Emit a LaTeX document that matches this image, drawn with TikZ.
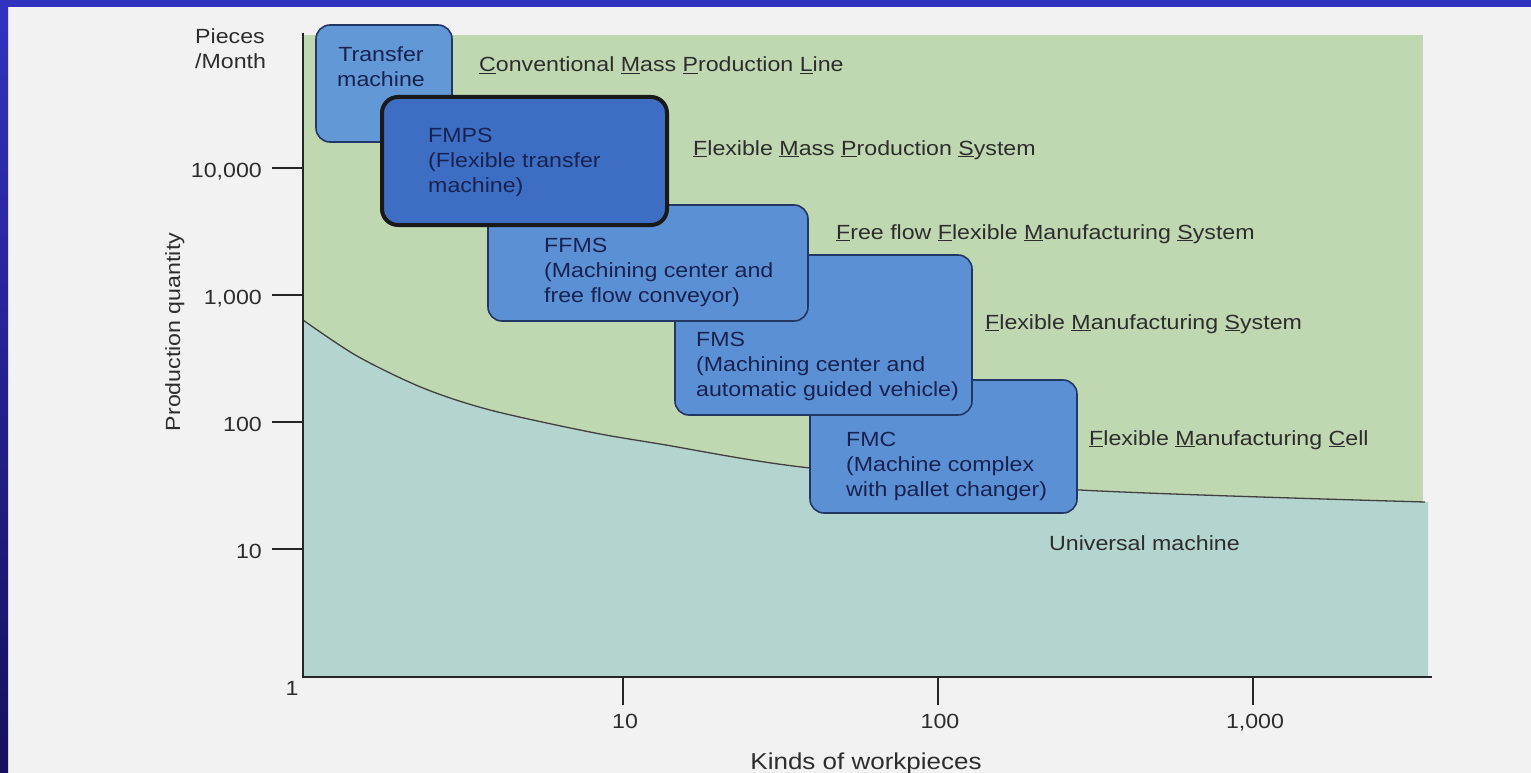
\documentclass[tikz,border=0pt]{standalone}
\usepackage{fontspec}
\setmainfont{Liberation Sans}[FakeStretch=1.13]
\usetikzlibrary{positioning}

\definecolor{slideblue}{RGB}{50,50,192}
\definecolor{slidenavy}{RGB}{22,16,92}
\definecolor{paper}{RGB}{242,242,242}
\definecolor{massgreen}{RGB}{192,216,178}
\definecolor{univteal}{RGB}{180,212,207}
\definecolor{cellblue}{RGB}{92,144,212}
\definecolor{lineblue}{RGB}{98,152,214}
\definecolor{fmpsblue}{RGB}{62,110,196}
\definecolor{inkgray}{RGB}{45,45,45}
\definecolor{inknavy}{RGB}{24,34,82}
\definecolor{edgenavy}{RGB}{35,55,100}

\newcommand{\ulet}[1]{\underline{#1}}

\begin{document}
\begin{tikzpicture}[x=1pt,y=-1pt,
    every node/.style={font=\fontsize{20.5}{25}\selectfont, text=inkgray, inner sep=0pt},
    cellbox/.style={draw=edgenavy, line width=1.6pt, fill=cellblue, rounded corners=14pt},
    celltext/.style={text=inknavy, align=left, anchor=north west},
    region/.style={anchor=base west},
    tick/.style={line width=1.8pt, draw=black!85}]
    \useasboundingbox (0,0) rectangle (1531,773);
    \fill[paper] (0,0) rectangle (1531,773);
    \fill[slideblue] (0,0) rectangle (1531,7);
    \shade[top color=slideblue, bottom color=slidenavy] (0,0) rectangle (8,773);

    % regions and boundary curve
    \fill[massgreen] (303,35) rectangle (1423,505);
    \fill[univteal] plot[smooth] coordinates {(303,320) (357,356) (423,388) (490,410) (590,432) (660,444) (810,468) (1080,490) (1425,502)}
        -- (1428,502) -- (1428,677) -- (303,677) -- cycle;
    \draw[line width=1.3pt, black!75] plot[smooth] coordinates {(303,320) (357,356) (423,388) (490,410) (590,432) (660,444) (810,468) (1080,490) (1425,502)};

    % axes
    \draw[line width=2pt, black!85] (303,33) -- (303,677) -- (1432,677);
    \foreach \yy/\lab in {168/{10,000}, 295/{1,000}, 422/100, 549/10} {
        \draw[tick] (272,\yy) -- (303,\yy);
        \node[anchor=base east] (ylab\yy) at (262,\yy+9.5) {\lab};
    }
    \foreach \xx/\lab in {623/10, 938/100, 1253/{1,000}} {
        \draw[tick] (\xx,677) -- (\xx,705);
        \node[anchor=base] (xlab\xx) at (\xx+2,728) {\lab};
    }
    \node[anchor=base] (ylab1) at (292,695) {1};
    \node[align=left, anchor=north west] (units) at (195,28) {Pieces\\/Month};
    \node[rotate=90, anchor=base] (ytitle) at (180,332) {Production quantity};
    \node[anchor=base, font=\fontsize{23}{27}\selectfont] (xtitle) at (866,769) {Kinds of workpieces};

    % systems
    \node[cellbox, minimum width=267pt, minimum height=133pt] (fmc) at (943.5,446.5) {};
    \node[celltext] (fmctxt) at (846,432) {FMC\\(Machine complex\\with pallet changer)};
    \node[cellbox, minimum width=297pt, minimum height=160pt] (fms) at (823.5,335) {};
    \node[celltext] (fmstxt) at (696,332) {FMS\\(Machining center and\\automatic guided vehicle)};
    \node[cellbox, minimum width=320pt, minimum height=116pt] (ffms) at (648,263) {};
    \node[celltext] (ffmstxt) at (544,238) {FFMS\\(Machining center and\\free flow conveyor)};
    \node[cellbox, fill=lineblue, minimum width=136pt, minimum height=117pt] (transfer) at (384,83.5) {};
    \node[celltext, align=center, anchor=north] (transfertxt) at (381,46) {Transfer\\machine};
    \node[cellbox, draw=black!90, line width=4pt, fill=fmpsblue, rounded corners=16pt, minimum width=285pt, minimum height=128pt] (fmps) at (524.5,161) {};
    \node[celltext] (fmpstxt) at (428,128) {FMPS\\(Flexible transfer\\machine)};

    % region names
    \node[region] (cmpl) at (479,72) {\ulet{C}onventional \ulet{M}ass \ulet{P}roduction \ulet{L}ine};
    \node[region] (fmpslab) at (693,155) {\ulet{F}lexible \ulet{M}ass \ulet{P}roduction \ulet{S}ystem};
    \node[region] (ffmslab) at (836,239) {\ulet{F}ree flow \ulet{F}lexible \ulet{M}anufacturing \ulet{S}ystem};
    \node[region] (fmslab) at (985,329) {\ulet{F}lexible \ulet{M}anufacturing \ulet{S}ystem};
    \node[region] (fmclab) at (1089,445) {\ulet{F}lexible \ulet{M}anufacturing \ulet{C}ell};
    \node[region] (univlab) at (1049,550) {Universal machine};
\end{tikzpicture}
\end{document}
